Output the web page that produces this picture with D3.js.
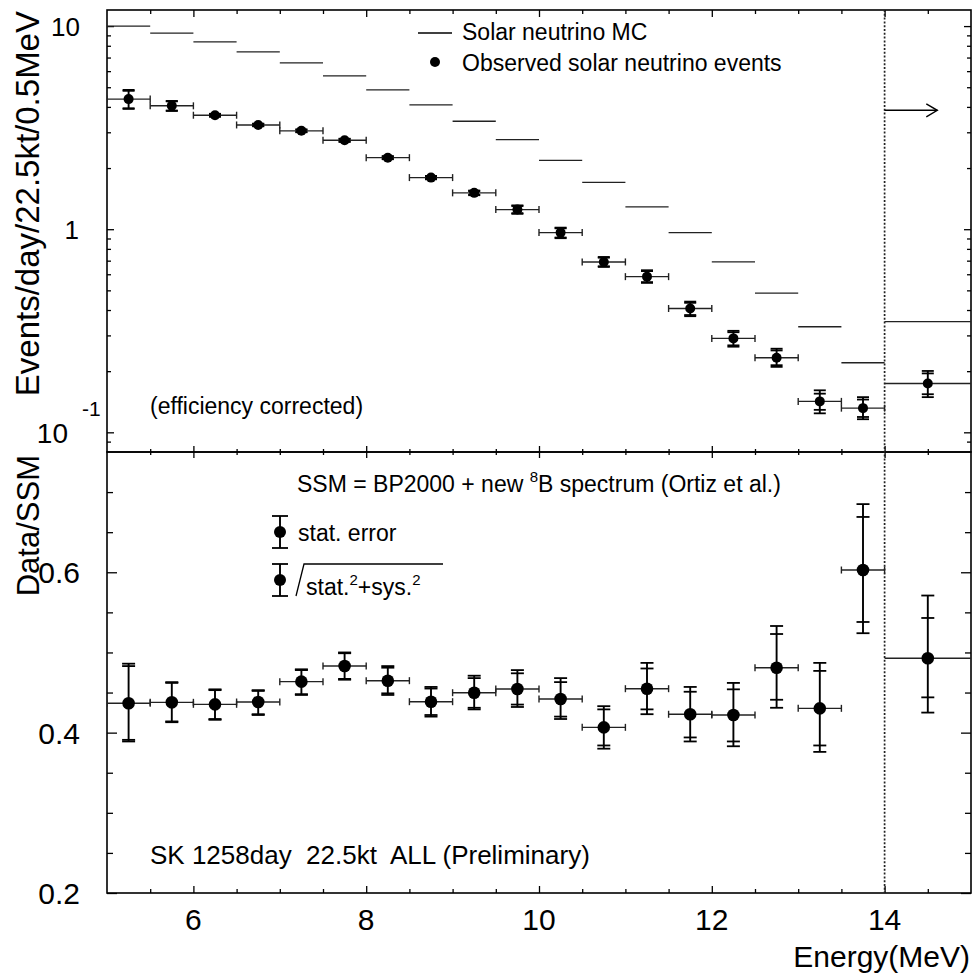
<!DOCTYPE html>
<html>
<head>
<meta charset="utf-8">
<script src="https://cdn.jsdelivr.net/npm/d3@7"></script>
<style>
html,body{margin:0;padding:0;background:#fff;}
svg{display:block;}
text{font-family:"Liberation Sans",Arial,Helvetica,sans-serif;fill:#000;white-space:pre;}
</style>
</head>
<body>
<svg id="chart" width="972" height="974"></svg>
<script>
// ---------------- DATA ----------------
const binLo = [5,5.5,6,6.5,7,7.5,8,8.5,9,9.5,10,10.5,11,11.5,12,12.5,13,13.5,14];
const binHi = [5.5,6,6.5,7,7.5,8,8.5,9,9.5,10,10.5,11,11.5,12,12.5,13,13.5,14,20];
const binCenter = [5.25,5.75,6.25,6.75,7.25,7.75,8.25,8.75,9.25,9.75,10.25,10.75,11.25,11.75,12.25,12.75,13.25,13.75,14.5];

// Top panel: events/day/22.5kt/0.5MeV
const mcRate   = [10.0,9.23,8.36,7.47,6.59,5.69,4.85,4.09,3.40,2.76,2.18,1.70,1.288,0.962,0.690,0.484,0.331,0.220,0.351];
const obsRate  = [4.37,4.05,3.64,3.26,3.05,2.74,2.25,1.795,1.51,1.249,0.962,0.690,0.584,0.407,0.290,0.233,0.142,0.1315,0.174];
const obsStatHi= [4.80,4.26,3.69,3.30,3.09,2.78,2.28,1.82,1.54,1.30,1.010,0.724,0.622,0.434,0.311,0.253,0.155,0.145,0.195];
const obsStatLo= [3.94,3.84,3.59,3.22,3.01,2.70,2.22,1.77,1.48,1.20,0.910,0.657,0.549,0.378,0.268,0.214,0.129,0.119,0.154];
const obsTotHi = [4.85,4.28,3.70,3.31,3.10,2.79,2.29,1.83,1.55,1.31,1.018,0.730,0.628,0.440,0.316,0.258,0.161,0.149,0.2005];
const obsTotLo = [3.91,3.82,3.58,3.21,3.00,2.69,2.21,1.76,1.47,1.19,0.903,0.652,0.544,0.373,0.264,0.210,0.124,0.116,0.149];

// Bottom panel: Data/SSM
const ratio     = [0.4366,0.4378,0.4353,0.4382,0.4636,0.4831,0.4648,0.4386,0.4498,0.4544,0.4420,0.4066,0.4548,0.4229,0.4220,0.4810,0.4303,0.6028,0.4927];
const ratStatHi = [0.483,0.462,0.453,0.452,0.478,0.499,0.481,0.455,0.468,0.474,0.463,0.429,0.480,0.451,0.454,0.523,0.477,0.669,0.543];
const ratTotHi  = [0.486,0.463,0.454,0.453,0.479,0.500,0.483,0.457,0.471,0.478,0.468,0.433,0.487,0.457,0.462,0.533,0.487,0.685,0.571];
const ratStatLo = [0.391,0.414,0.417,0.423,0.448,0.467,0.449,0.422,0.431,0.435,0.420,0.384,0.429,0.394,0.389,0.441,0.384,0.538,0.444];
const ratTotLo  = [0.389,0.413,0.416,0.422,0.447,0.466,0.447,0.420,0.429,0.432,0.417,0.380,0.423,0.389,0.383,0.431,0.376,0.524,0.425];

// Axis ticks / labels
const xMajor = [6,8,10,12,14];
const xMinor = [5.5,6.5,7,7.5,8.5,9,9.5,10.5,11,11.5,12.5,13,13.5,14.5];
const yTopMajor = [0.1,1,10];
const yTopMinor = [0.09,0.2,0.3,0.4,0.5,0.6,0.7,0.8,0.9,2,3,4,5,6,7,8,9];
const yBotMajor = [0.2,0.4,0.6];
const yBotMinor = [0.25,0.3,0.35,0.45,0.5,0.55,0.65,0.7];
const thresholdE = 14;
const arrowLevel = 3.85, arrowFrom = 14.0, arrowTo = 14.61;

// ---------------- GEOMETRY ----------------
const L = 107, R = 971, T0 = 10, M = 452, B = 893;
const svg = d3.select("#chart");
const x = d3.scaleLinear().domain([5,15]).range([L,R]);
const yT = d3.scaleLog().domain([0.08,12]).range([M,T0]);
const yB = d3.scaleLinear().domain([0.2,0.75]).range([B,M]);

const defs = svg.append("defs");
defs.append("clipPath").attr("id","clipT").append("rect").attr("x",L).attr("y",T0).attr("width",R-L).attr("height",M-T0);
defs.append("clipPath").attr("id","clipB").append("rect").attr("x",L).attr("y",M).attr("width",R-L).attr("height",B-M);

function tickAxis(axisFn, scale, values, size, tx, ty){
  const g = svg.append("g").attr("transform",`translate(${tx},${ty})`)
    .call(axisFn(scale).tickValues(values).tickSize(size).tickFormat(""));
  g.select(".domain").remove();
  g.selectAll("line").attr("stroke","#000").attr("stroke-width",1.3);
  return g;
}
// x ticks
tickAxis(d3.axisBottom, x, xMajor, 7, 0, T0);
tickAxis(d3.axisBottom, x, xMinor, 4, 0, T0);
tickAxis(d3.axisTop, x, xMajor, 6, 0, M);
tickAxis(d3.axisTop, x, xMinor, 3, 0, M);
tickAxis(d3.axisBottom, x, xMajor, 6, 0, M);
tickAxis(d3.axisBottom, x, xMinor, 3, 0, M);
tickAxis(d3.axisTop, x, xMajor, 7, 0, B);
tickAxis(d3.axisTop, x, xMinor, 4, 0, B);
// y ticks top
tickAxis(d3.axisRight, yT, yTopMajor, 7, L, 0);
tickAxis(d3.axisRight, yT, yTopMinor, 4, L, 0);
tickAxis(d3.axisLeft, yT, yTopMajor, 7, R, 0);
tickAxis(d3.axisLeft, yT, yTopMinor, 4, R, 0);
// y ticks bottom
tickAxis(d3.axisRight, yB, yBotMajor, 10, L, 0);
tickAxis(d3.axisRight, yB, yBotMinor, 6, L, 0);
tickAxis(d3.axisLeft, yB, yBotMajor, 10, R, 0);
tickAxis(d3.axisLeft, yB, yBotMinor, 6, R, 0);

// frames
svg.append("rect").attr("x",L).attr("y",T0).attr("width",R-L).attr("height",M-T0)
  .attr("fill","none").attr("stroke","#000").attr("stroke-width",1.6);
svg.append("rect").attr("x",L).attr("y",M).attr("width",R-L).attr("height",B-M)
  .attr("fill","none").attr("stroke","#000").attr("stroke-width",1.6);

// threshold dotted line
svg.append("line").attr("x1",x(thresholdE)).attr("x2",x(thresholdE)).attr("y1",T0).attr("y2",B)
  .attr("stroke","#222").attr("stroke-width",1.7).attr("stroke-dasharray","2,1.8");

// ---------------- TOP PANEL ----------------
const gT = svg.append("g").attr("clip-path","url(#clipT)");
const idx = d3.range(binCenter.length);
// MC histogram segments
gT.selectAll(".mc").data(idx).join("line")
  .attr("x1",i=>x(binLo[i])).attr("x2",i=>x(binHi[i]))
  .attr("y1",i=>yT(mcRate[i])).attr("y2",i=>yT(mcRate[i]))
  .attr("stroke","#222").attr("stroke-width",1.3);

function drawPoints(g, yS, val, sHi, sLo, tHi, tLo, r, capW){
  // horizontal bars
  g.selectAll(null).data(idx).join("line")
    .attr("x1",i=>x(binLo[i])).attr("x2",i=>x(binHi[i]))
    .attr("y1",i=>yS(val[i])).attr("y2",i=>yS(val[i]))
    .attr("stroke","#222").attr("stroke-width",1.4);
  const capIdx = idx.filter(i=>binHi[i]<=14);
  ["lo","hi"].forEach(side=>{
    g.selectAll(null).data(capIdx).join("line")
      .attr("x1",i=>x(side==="lo"?binLo[i]:binHi[i])).attr("x2",i=>x(side==="lo"?binLo[i]:binHi[i]))
      .attr("y1",i=>yS(val[i])-3.5).attr("y2",i=>yS(val[i])+3.5)
      .attr("stroke","#222").attr("stroke-width",1.4);
  });
  // vertical bars
  g.selectAll(null).data(idx).join("line")
    .attr("x1",i=>x(binCenter[i])).attr("x2",i=>x(binCenter[i]))
    .attr("y1",i=>yS(tHi[i])).attr("y2",i=>yS(tLo[i]))
    .attr("stroke","#000").attr("stroke-width",1.9);
  [sHi,sLo,tHi,tLo].forEach(arr=>{
    g.selectAll(null).data(idx).join("line")
      .attr("x1",i=>x(binCenter[i])-capW).attr("x2",i=>x(binCenter[i])+capW)
      .attr("y1",i=>yS(arr[i])).attr("y2",i=>yS(arr[i]))
      .attr("stroke","#000").attr("stroke-width",1.8);
  });
  g.selectAll(null).data(idx).join("circle")
    .attr("cx",i=>x(binCenter[i])).attr("cy",i=>yS(val[i])).attr("r",r).attr("fill","#000");
}
drawPoints(gT, yT, obsRate, obsStatHi, obsStatLo, obsTotHi, obsTotLo, 5, 6);

// arrow
const ay = yT(arrowLevel);
svg.append("line").attr("x1",x(arrowFrom)).attr("x2",x(arrowTo)).attr("y1",ay).attr("y2",ay)
  .attr("stroke","#000").attr("stroke-width",1.4);
svg.append("path").attr("d",`M${x(arrowTo)-11},${ay-6.5}L${x(arrowTo)},${ay}L${x(arrowTo)-11},${ay+6.5}`)
  .attr("fill","none").attr("stroke","#000").attr("stroke-width",1.4);

// ---------------- BOTTOM PANEL ----------------
const gB = svg.append("g").attr("clip-path","url(#clipB)");
drawPoints(gB, yB, ratio, ratStatHi, ratStatLo, ratTotHi, ratTotLo, 6.3, 6.5);

// ---------------- LABELS ----------------
function txt(s, xx, yy, size, anchor){
  return svg.append("text").attr("x",xx).attr("y",yy).attr("font-size",size)
    .attr("text-anchor",anchor||"start").text(s);
}
// top y tick labels
txt("10", 80, yT(10)+9.5, 26, "end");
txt("1", 79, yT(1)+9.5, 26, "end");
txt("10", 68, 443, 28, "end");
txt("-1", 82, 416, 21, "start");
// bottom y tick labels
yBotMajor.forEach(v=>txt(d3.format(".1f")(v), 80, yB(v)+11, 30, "end"));
// x tick labels
xMajor.forEach(v=>txt(String(v), x(v), 930, 30, "middle"));
txt("Energy(MeV)", 970, 967, 30, "end");

// axis titles
svg.append("text").attr("transform",`translate(39,${T0+1}) rotate(-90)`)
  .attr("text-anchor","end").attr("font-size",33).text("Events/day/22.5kt/0.5MeV");
svg.append("text").attr("transform",`translate(39,${M+3}) rotate(-90)`)
  .attr("text-anchor","end").attr("font-size",31).text("Data/SSM");

// top legend
svg.append("line").attr("x1",418).attr("x2",452).attr("y1",33).attr("y2",33)
  .attr("stroke","#000").attr("stroke-width",1.3);
txt("Solar neutrino MC", 462, 40, 23);
svg.append("circle").attr("cx",435).attr("cy",62).attr("r",5).attr("fill","#000");
txt("Observed solar neutrino events", 462, 71, 23);
txt("(efficiency corrected)", 150, 414, 23);

// bottom legend
const ssm = svg.append("text").attr("x",297).attr("y",492).attr("font-size",23);
ssm.append("tspan").text("SSM = BP2000 + new ");
ssm.append("tspan").attr("font-size",15).attr("dy",-10).text("8");
ssm.append("tspan").attr("dy",10).text("B spectrum (Ortiz et al.)");

function legendBar(cx, cy, half){
  svg.append("line").attr("x1",cx).attr("x2",cx).attr("y1",cy-half).attr("y2",cy+half)
    .attr("stroke","#000").attr("stroke-width",1.9);
  [cy-half, cy+half].forEach(yy=>svg.append("line").attr("x1",cx-8).attr("x2",cx+8).attr("y1",yy).attr("y2",yy)
    .attr("stroke","#000").attr("stroke-width",1.8));
  svg.append("circle").attr("cx",cx).attr("cy",cy).attr("r",6).attr("fill","#000");
}
legendBar(280, 532, 16);
txt("stat. error", 298, 541, 23);
legendBar(280, 580, 16);
svg.append("path").attr("d","M296,596L304,564L443,564").attr("fill","none").attr("stroke","#000").attr("stroke-width",1.3);
const ss = svg.append("text").attr("x",306).attr("y",595).attr("font-size",23);
ss.append("tspan").text("stat.");
ss.append("tspan").attr("font-size",15).attr("dy",-10).text("2");
ss.append("tspan").attr("dy",10).text("+sys.");
ss.append("tspan").attr("font-size",15).attr("dy",-10).text("2");

txt("SK 1258day  22.5kt  ALL (Preliminary)", 150, 864, 26);
</script>
</body>
</html>
